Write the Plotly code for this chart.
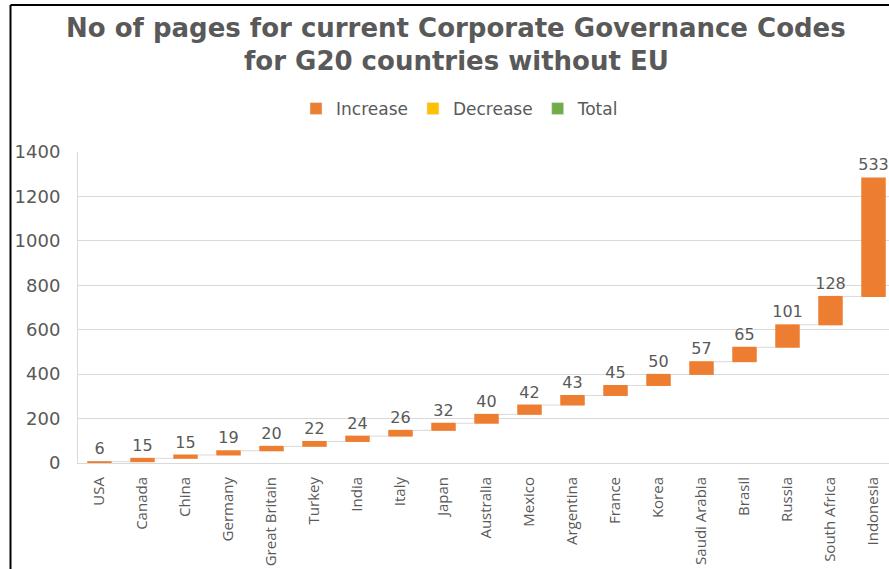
import plotly.graph_objects as go

# Pages in each country's current corporate governance code
countries = ["USA", "Canada", "China", "Germany", "Great Britain", "Turkey", "India",
             "Italy", "Japan", "Australia", "Mexico", "Argentina", "France", "Korea",
             "Saudi Arabia", "Brasil", "Russia", "South Africa", "Indonesia"]
pages = [6, 15, 15, 19, 20, 22, 24, 26, 32, 40, 42, 43, 45, 50, 57, 65, 101, 128, 533]

title_lines = ["No of pages for current Corporate Governance Codes",
               "for G20 countries without EU"]

legend_names = ["Increase", "Decrease", "Total"]
legend_colors = ["#ED7D31", "#FFC000", "#70AD47"]

y_ticks = [0, 200, 400, 600, 800, 1000, 1200, 1400]

TEXT = "#595959"
GRID = "#d9d9d9"
FONT = "Open Sans"
WIDE = "DejaVu Sans"

W, H = 889, 569
L, R, T, B = 78, 0, 152, 106
plot_w = W - L - R
plot_h = H - T - B


def px_to_paper_x(px):
    return (px - L) / plot_w


def px_to_paper_y(py):
    return 1 + (T - py) / plot_h


fig = go.Figure()

fig.add_trace(go.Waterfall(
    x=countries,
    y=pages,
    measure=["relative"] * len(pages),
    text=[str(v) for v in pages],
    textposition="outside",
    constraintext="none",
    textfont=dict(family=WIDE, size=16, color=TEXT),
    increasing=dict(marker=dict(color=legend_colors[0], line=dict(width=0))),
    connector=dict(line=dict(color=GRID, width=1)),
    width=0.57,
    cliponaxis=False,
    showlegend=False,
    hoverinfo="x+y",
))

# Legend entries for the three waterfall categories
for name, color in zip(legend_names, legend_colors):
    fig.add_trace(go.Bar(x=[None], y=[None], name=name,
                         marker=dict(color=color), showlegend=True))

# Two-line bold title
for line, ypx in zip(title_lines, [28, 61]):
    fig.add_annotation(
        text="<b>" + line + "</b>",
        xref="paper", yref="paper",
        x=px_to_paper_x(456), y=px_to_paper_y(ypx),
        xanchor="center", yanchor="middle",
        showarrow=False,
        font=dict(family=WIDE, size=26, color=TEXT),
    )

# Outer frame of the chart
frame_x = px_to_paper_x(10.5)
frame_y = px_to_paper_y(5)
fig.add_shape(type="line", xref="paper", yref="paper",
              x0=frame_x, x1=frame_x, y0=-1, y1=frame_y,
              line=dict(color="black", width=2))
fig.add_shape(type="line", xref="paper", yref="paper",
              x0=frame_x, x1=1.2, y0=frame_y, y1=frame_y,
              line=dict(color="black", width=2))

fig.update_layout(
    width=W, height=H,
    margin=dict(l=L, r=R, t=T, b=B),
    paper_bgcolor="white",
    plot_bgcolor="white",
    font=dict(family=FONT, color=TEXT),
    legend=dict(
        orientation="h",
        x=px_to_paper_x(460), xanchor="center",
        y=px_to_paper_y(109), yanchor="middle",
        font=dict(family=WIDE, size=17, color=TEXT),
        bgcolor="rgba(0,0,0,0)",
    ),
    xaxis=dict(
        type="category",
        range=[-0.5, -0.5 + plot_w / 43.0],
        tickangle=-90,
        tickfont=dict(family=FONT, size=15, color=TEXT),
        showgrid=False,
        showline=True, linecolor=GRID, linewidth=1,
        ticks="",
        ticklabelstandoff=7,
    ),
    yaxis=dict(
        range=[0, 1400],
        tickvals=y_ticks,
        tickfont=dict(family=WIDE, size=18, color=TEXT),
        showgrid=True, gridcolor=GRID, gridwidth=1,
        showline=True, linecolor=GRID, linewidth=1,
        zeroline=False,
        ticks="",
        ticklabelstandoff=13,
    ),
    bargap=0.4,
)

fig.write_html("out.html")
